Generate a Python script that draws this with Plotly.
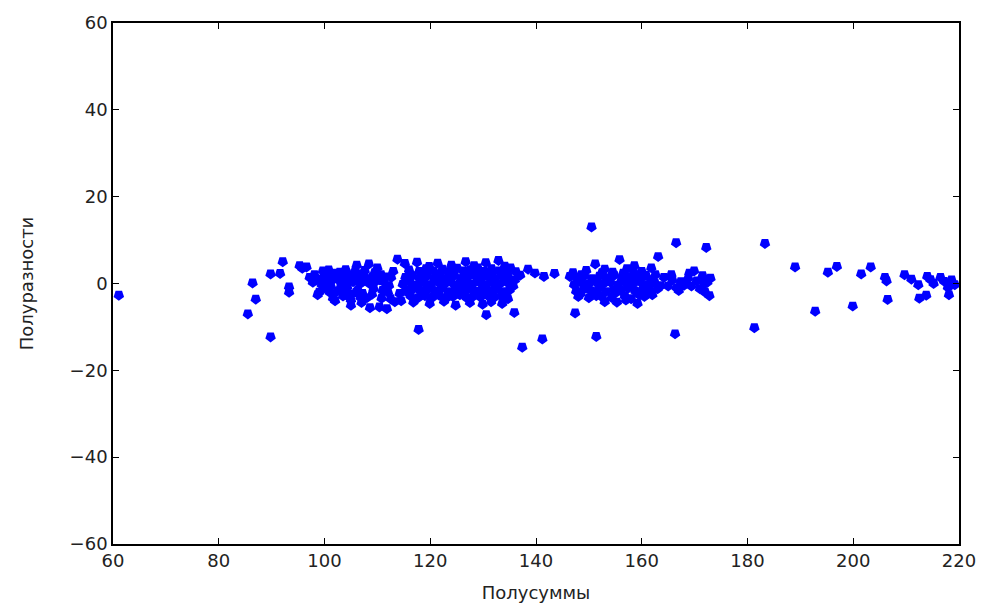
import plotly.graph_objects as go

# Half-sums (x) and half-differences (y), grouped by region of the scatter
left_x = [61.1, 85.5, 86.4, 87.0, 89.8, 89.8, 91.6, 92.1, 93.3, 93.3]
left_y = [-2.7, -7.0, 0.1, -3.6, -12.3, 2.2, 2.3, 5.0, -0.8, -2.0]

c1_x = [95.3, 95.8, 96.6, 97.2, 97.8, 98.1, 98.7, 99.2, 99.7, 100.0, 100.4, 101.0,
        101.2, 101.6, 102.0, 102.4, 102.9, 103.2, 103.5, 103.9, 104.3, 104.8, 105.0,
        105.4, 105.8, 106.1, 106.3, 106.5, 106.8, 107.2, 107.0, 107.6, 108.0, 108.4,
        108.6, 109.0, 109.3, 109.8, 110.4, 110.7, 111.0, 111.3, 111.8, 112.2, 112.6,
        113.3, 113.8, 114.2, 113.0, 104.0, 100.8, 99.0, 102.0, 105.0, 104.5, 110.0,
        108.0, 106.0, 103.0, 107.5,
        98.5, 99.5, 100.5, 101.5, 102.5, 103.5, 104.5, 105.5, 106.5, 107.5, 108.5, 109.5,
        110.5, 111.5, 100.0, 101.0, 103.8, 105.2, 106.8, 109.0, 110.8, 112.0, 112.5, 104.2]
c1_y = [4.1, 3.5, 3.8, 1.4, 0.3, 2.0, -2.6, 1.0, 2.9, -1.0, 0.5, 1.6,
        -0.6, -3.4, 2.4, -1.8, 2.6, 0.2, -2.9, 1.2, -0.8, 1.8, -3.8,
        0.4, 2.9, 4.2, -1.5, 2.2, 0.0, -2.3, -4.4, 3.0, 1.0, 4.5,
        -5.6, 1.5, -1.2, 0.6, -5.4, 2.0, -1.6, 0.3, -5.8, -0.5, 1.4,
        -4.2, 5.6, -2.3, 2.8, 3.2, 3.1, -2.0, -4.0, -5.0, -3.0, 3.6,
        -3.3, -2.0, -1.0, 0.8,
        0.8, -0.3, 1.8, 0.8, 1.0, 1.8, 0.9, 1.5, 0.8, 1.8, 0.0, 2.5,
        0.8, 1.5, 2.2, -2.0, -2.0, -2.4, -3.2, -2.5, -3.4, -2.0, -3.5, 2.5]

c2_x = [115.2, 117.5, 119.8, 121.4, 124.0, 126.7, 128.3, 130.5, 132.9, 134.1, 135.2, 138.5, 139.8, 141.5, 143.5,
        116.0, 117.9, 119.2, 120.6, 122.3, 123.5, 125.1, 126.3, 127.6, 129.0, 130.2, 131.6, 133.0, 134.5, 136.2, 137.0,
        116.0, 118.6, 121.2, 123.8, 126.4, 129.0, 131.6, 134.2,
        115.3, 116.6, 118.0, 119.4, 120.8, 122.0, 123.3, 124.6, 125.8, 127.1, 128.4, 129.6, 130.9, 132.2, 133.5, 134.8, 136.0,
        114.8, 116.2, 117.5, 118.8, 120.1, 121.4, 122.7, 124.0, 125.3, 126.6, 127.9, 129.2, 130.5, 131.8, 133.1, 134.4, 135.7,
        117.0, 119.6, 122.2, 124.8, 127.4, 130.0, 132.6, 135.2,
        115.5, 116.8, 118.2, 119.5, 120.9, 122.1, 123.4, 124.7, 126.0, 127.3, 128.6, 129.9, 131.2, 132.5, 133.8, 135.0,
        116.0, 118.6, 121.2, 123.8, 126.4, 129.0, 131.6, 134.2,
        116.3, 117.7, 119.0, 120.4, 121.7, 123.0, 124.3, 125.6, 126.9, 128.2, 129.5, 130.8, 132.1, 133.4, 134.7,
        114.5, 116.8, 119.9, 122.6, 124.8, 127.5, 129.9, 131.5, 133.6, 130.6, 135.9, 117.8, 137.4, 141.2]
c2_y = [4.6, 4.9, 3.9, 4.7, 4.2, 5.0, 4.1, 4.8, 5.3, 4.0, 3.6, 3.3, 2.4, 1.6, 2.3,
        3.1, 2.8, 3.4, 2.9, 3.3, 2.7, 3.5, 2.9, 3.2, 3.6, 2.8, 3.4, 2.9, 2.6, 2.7, 1.9,
        2.3, 2.3, 2.2, 2.4, 2.3, 2.2, 2.4, 2.3,
        1.4, 1.8, 1.2, 1.7, 1.1, 1.6, 1.3, 1.9, 1.0, 1.5, 1.8, 1.2, 1.6, 1.1, 1.7, 1.3, 0.8,
        -0.2, 0.3, -0.4, 0.2, -0.3, 0.4, -0.1, 0.3, -0.4, 0.1, -0.2, 0.4, -0.3, 0.2, -0.1, 0.4, -0.6,
        -0.8, -0.9, -0.7, -0.9, -0.8, -0.7, -0.9, -0.8,
        -1.6, -1.2, -1.8, -1.3, -1.7, -1.1, -1.9, -1.4, -1.6, -1.2, -1.8, -1.4, -1.7, -1.2, -1.9, -1.5,
        -2.3, -2.4, -2.2, -2.4, -2.3, -2.2, -2.4, -2.3,
        -2.9, -3.3, -2.8, -3.2, -2.7, -3.4, -3.0, -2.6, -3.3, -2.9, -3.1, -2.7, -3.2, -2.8, -3.5,
        -4.0, -4.3, -4.6, -4.1, -5.0, -4.4, -4.8, -4.2, -4.6, -7.2, -6.7, -10.6, -14.7, -12.8]

c3_x = [147.0, 148.6, 151.2, 153.0, 155.8, 157.2, 158.6, 160.0, 161.8, 163.1, 150.5, 166.5, 172.2,
        146.4, 147.8, 149.2, 150.6, 152.0, 153.4, 154.8, 156.2, 157.6, 159.0, 160.4, 161.8, 162.6,
        147.2, 148.5, 149.9, 151.3, 152.7, 154.1, 155.5, 156.9, 158.3, 159.7, 161.1, 162.5, 163.6,
        147.6, 149.0, 150.4, 151.8, 153.2, 154.6, 156.0, 157.4, 158.8, 160.2, 161.6, 163.0,
        148.0, 150.0, 151.4, 153.0, 154.3, 155.3, 156.8, 158.0, 159.2, 160.5, 162.0,
        149.5, 152.5, 154.5, 156.5, 158.5, 160.8, 148.4, 149.6, 152.4, 155.0, 157.0,
        159.5, 161.2, 153.5, 157.8,
        147.4, 151.4, 166.3]
c3_y = [2.5, 2.0, 4.5, 3.3, 5.5, 3.4, 4.1, 2.8, 3.6, 6.2, 13.0, 9.4, 8.3,
        1.6, 1.2, 1.8, 1.1, 1.7, 1.3, 1.9, 1.0, 1.5, 1.2, 1.7, 0.9, 2.0,
        -0.3, 0.3, -0.2, 0.4, -0.1, 0.3, -0.4, 0.2, -0.2, 0.4, -0.3, 0.1, -0.5,
        -1.8, -1.3, -1.7, -1.2, -1.9, -1.4, -1.6, -1.1, -1.8, -1.3, -1.6, -1.2,
        -3.0, -3.3, -2.8, -4.2, -3.2, -4.3, -2.9, -3.5, -4.6, -3.0, -2.6,
        3.0, 2.5, 2.6, 2.4, 2.6, 1.9, -2.4, -0.8, -3.0, -2.2, -3.8,
        -2.6, -2.2, 0.8, 0.6,
        -6.8, -12.2, -11.6]

c4_x = [164.2, 165.0, 165.8, 166.6, 167.4, 168.0, 168.8, 169.4, 169.9, 170.4,
        171.0, 171.5, 172.0, 172.4, 172.8, 173.0, 171.8, 169.0, 165.6, 167.0]
c4_y = [1.4, -0.6, 0.8, -1.0, 0.4, -0.4, 1.2, -0.6, 2.9, 0.6,
        -1.2, 1.8, -2.0, 0.3, -2.8, 1.2, -0.2, 2.4, 2.0, -1.6]

right_x = [181.3, 183.3, 189.0, 192.8, 195.2, 196.9, 199.9, 201.5, 203.3, 206.0,
           206.3, 206.5, 209.7, 211.0, 212.3, 212.5, 213.8, 214.0, 214.6, 215.2,
           216.5, 217.2, 217.9, 218.1, 218.6, 219.2]
right_y = [-10.2, 9.2, 3.8, -6.4, 2.6, 3.9, -5.2, 2.2, 3.8, 1.4,
           0.6, -3.7, 2.0, 1.0, -0.3, -3.4, -2.7, 1.6, 0.9, 0.0,
           1.4, 0.5, -0.9, -2.6, 0.8, -0.3]

x_vals = left_x + c1_x + c2_x + c3_x + c4_x + right_x
y_vals = left_y + c1_y + c2_y + c3_y + c4_y + right_y

x_ticks = [60, 80, 100, 120, 140, 160, 180, 200, 220]
y_ticks = [-60, -40, -20, 0, 20, 40, 60]
y_tick_text = [str(v).replace("-", "\u2212") for v in y_ticks]

fig = go.Figure(
    go.Scatter(
        x=x_vals, y=y_vals, mode="markers",
        marker=dict(symbol="pentagon", angle=180, size=11, color="#0000ff",
                    line=dict(width=0)),
        hoverinfo="skip",
    )
)

font = dict(family="DejaVu Sans", size=18, color="#222222")
axis_common = dict(
    showgrid=False, zeroline=False, showline=True, linecolor="black", linewidth=1.6,
    mirror="ticks", ticks="inside", ticklen=6, tickwidth=1, tickcolor="black",
    tickfont=font,
)
fig.update_xaxes(range=[60, 220], tickvals=x_ticks, ticktext=[str(v) for v in x_ticks],
                 title=dict(text="Полусуммы", font=font, standoff=16), **axis_common)
fig.update_yaxes(range=[-60, 60], tickvals=y_ticks, ticktext=y_tick_text,
                 title=dict(text="Полуразности", font=font, standoff=31), **axis_common)

fig.update_layout(
    width=988, height=612,
    margin=dict(l=113, r=27, t=18, b=64),
    paper_bgcolor="white", plot_bgcolor="white",
    showlegend=False,
)

fig.write_html("out.html")
